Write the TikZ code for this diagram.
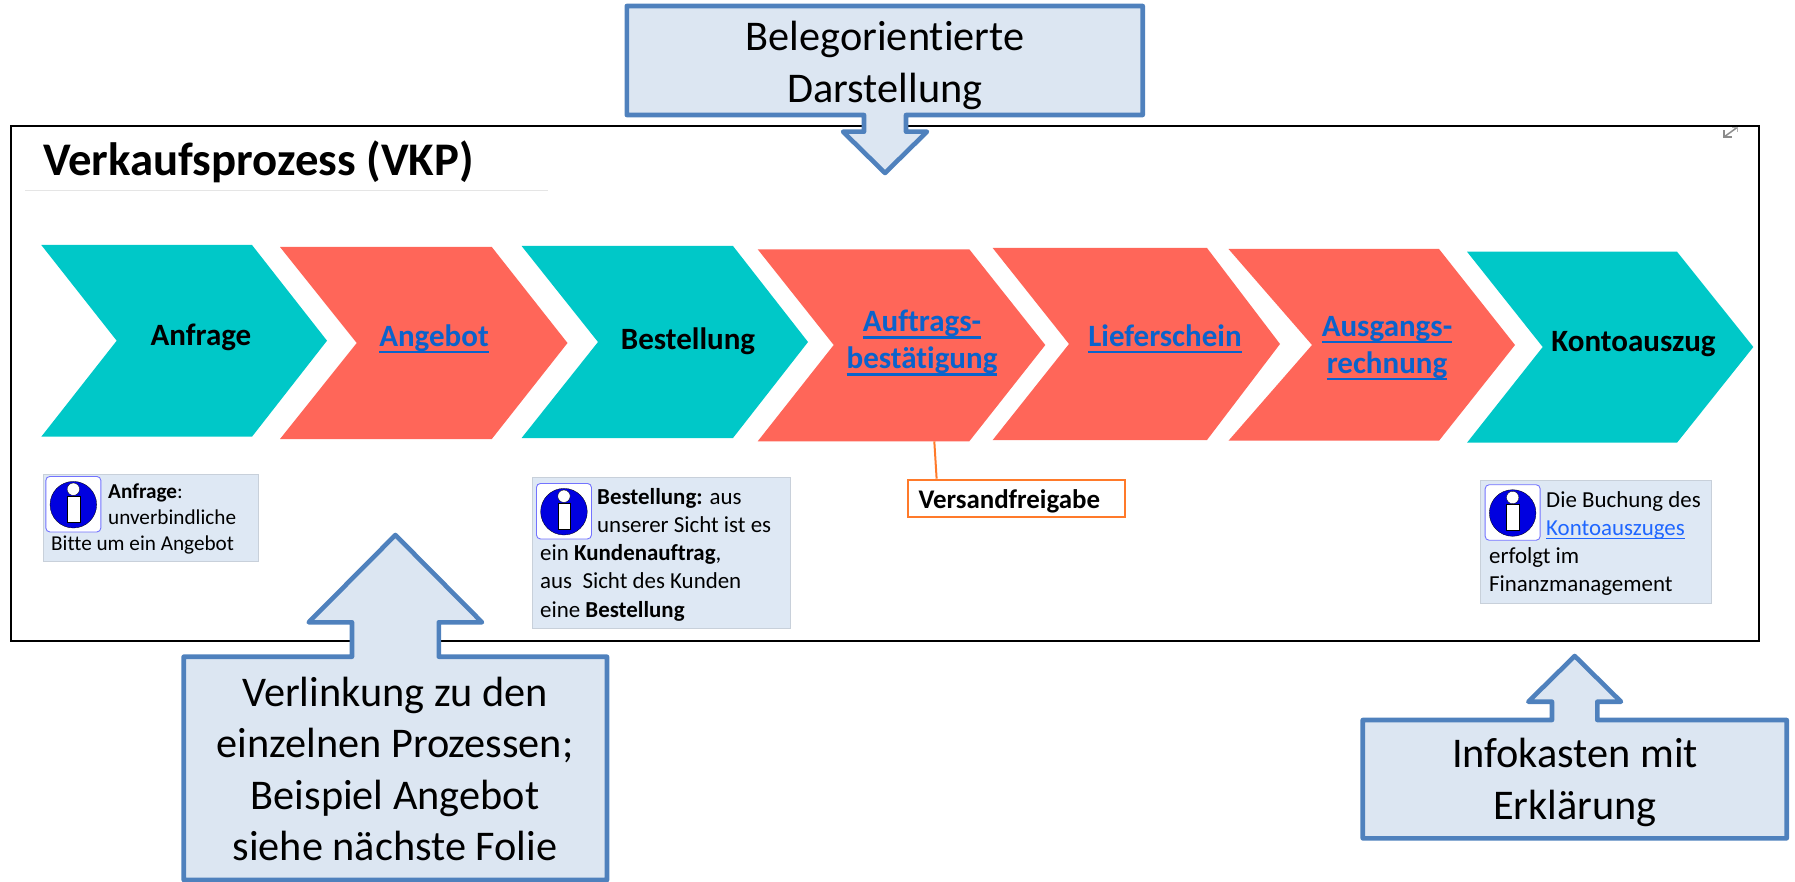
\documentclass[tikz,border=0pt]{standalone}
\usepackage{fontspec}
\setmainfont[Ligatures=NoCommon]{Carlito}
\usetikzlibrary{calc}
\definecolor{tealc}{HTML}{00C8C8}
\definecolor{redc}{HTML}{FF6659}
\definecolor{callstroke}{HTML}{4F81BD}
\definecolor{callfill}{HTML}{DCE6F2}
\definecolor{infofill}{HTML}{DEE8F4}
\definecolor{infoedge}{HTML}{C8D0DA}
\definecolor{linkc}{HTML}{0A63CC}
\definecolor{linkb}{HTML}{1F66FF}
\definecolor{orangec}{HTML}{FF7A2A}
\definecolor{iconblue}{HTML}{0000E0}
\newcommand\biglink[1]{\setbox0\hbox{#1}\rlap{\vrule width\wd0 height -4.5pt depth 7pt}\box0}
\newcommand\smalllink[1]{\setbox0\hbox{#1}\rlap{\vrule width\wd0 height -3.2pt depth 4.4pt}\box0}
\newcommand\chev[9]{% x-left, top, bottom, x-topright, x-tip, y-tip, x-notch, y-notch, colour
  \fill[#9] (#1,#2) -- (#4,#2) -- (#5,#6) -- (#4,#3) -- (#1,#3) -- (#7,#8) -- cycle;}
\newcommand\infoicon[3]{% name, frame x, frame y
  \node[iconframe,anchor=north west] (#1) at (#2,#3) {};
  \fill[iconblue,draw=black,line width=.3pt] ($(#1.center)+(0,0.5)$) circle (23.3);
  \fill[white,draw=black,line width=.3pt] ($(#1.center)+(0,-15)$) circle (6.2);
  \fill[white,draw=black,line width=.3pt] ($(#1.center)+(-6.3,-8)$) rectangle ($(#1.center)+(6.3,17.5)$);}
\tikzset{
  x=1pt,y=-1pt,
  steplabel/.style={font=\fontsize{31}{37}\selectfont\bfseries,inner sep=0,anchor=base,align=center},
  linklabel/.style={steplabel,text=linkc},
  calltext/.style={font=\fontsize{42.3}{51.3}\selectfont,inner sep=0,anchor=base,align=center,text=black},
  infotext/.style={inner sep=0,anchor=base west,align=left},
  callout/.style={draw=callstroke,fill=callfill,line width=4.6pt,line join=round},
  infobox/.style={fill=infofill,draw=infoedge,line width=.8pt},
  iconframe/.style={draw=blue!55!white,fill=white,line width=.9pt,rounded corners=4pt,minimum width=55pt,minimum height=55.5pt,inner sep=0},
}
\begin{document}
\begin{tikzpicture}
\useasboundingbox (0,0) rectangle (1795,882);
% frame
\draw[black,line width=2pt] (10.5,126) rectangle (1759,641);
% title
\node[font=\fontsize{46.75}{50}\selectfont\bfseries,inner sep=0,anchor=base west] (title) at (43,176) {Verkaufsprozess (VKP)};
\draw[black!10,line width=1.2pt] (25,190.7) -- (548,190.7);
% expand mark
\coordinate (ea) at (1724,137);
\coordinate (eb) at (1737,127.5);
\draw[black!45,line width=1.5pt] (ea) -- (eb);
\draw[black!45,line width=1.5pt] (1724,130.5) -- (ea) -- (1731.5,137);
\draw[black!30,line width=1pt] (1732,127.5) -- (eb) -- (1737,132);
% chevrons
\chev{41.3}{245}{436.7}{252}{327}{340.7}{116.7}{340.7}{tealc}
\chev{280}{247}{439}{491.8}{567.5}{343}{356.7}{343}{redc}
\chev{521.6}{246}{438}{733}{808}{342}{598}{342}{tealc}
\chev{757.7}{249.3}{441.3}{969.3}{1045.3}{345}{833.7}{345}{redc}
\chev{992.7}{248}{440}{1207}{1280}{344}{1069}{344}{redc}
\chev{1228.5}{249}{440.7}{1439}{1515}{345}{1312}{345}{redc}
\chev{1467}{251.7}{442.7}{1677}{1753.3}{347}{1542.7}{347}{tealc}
% chevron labels
\node[steplabel] (anfrage) at (201,345) {Anfrage};
\node[linklabel] (angebot) at (434,346) {\biglink{Angebot}};
\node[steplabel] (bestellung) at (688,349) {Bestellung};
\node[linklabel] (auftrag) at (922,368.5) {\biglink{Auftrags-}\\\biglink{bestätigung}};
\node[linklabel] (liefer) at (1165,346) {\biglink{Lieferschein}};
\node[linklabel] (ausgang) at (1387,373) {\biglink{Ausgangs-}\\\biglink{rechnung}};
\node[steplabel] (konto) at (1633.5,352) {Kontoauszug};
% Versandfreigabe
\coordinate (footfour) at (934.3,441.3);
\node[draw=orangec,line width=2.4pt,minimum width=217pt,minimum height=37pt,inner sep=0,anchor=north west] (vfbox) at (907,478.7) {};
\node[font=\fontsize{26.9}{28}\selectfont\bfseries,inner sep=0,anchor=base west] (vftext) at (918.3,508) {Versandfreigabe};
\draw[orangec,line width=2pt] (footfour) -- ($(vfbox.north west)!0.135!(vfbox.north east)$);
% info boxes
\draw[infobox] (43,474) rectangle (258.7,561.7);
\infoicon{ia}{45.4}{476}
\node[infotext,font=\fontsize{21.2}{26}\selectfont] (ta) at (51,550) {\hspace*{57pt}\textbf{Anfrage}:\\\hspace*{57pt}unverbindliche\\Bitte um ein Angebot};
\draw[infobox] (532,477) rectangle (790,628);
\infoicon{ib}{536}{483}
\node[infotext,font=\fontsize{22.9}{28.2}\selectfont] (tb) at (540,617) {\hspace*{57pt}\textbf{Bestellung:} aus\\\hspace*{57pt}unserer Sicht ist es\\ein \textbf{Kundenauftrag},\\aus\ \ Sicht des Kunden\\eine \textbf{Bestellung}};
\draw[infobox] (1480.7,480) rectangle (1711.7,603);
\infoicon{ic}{1484.7}{484.3}
\node[infotext,font=\fontsize{22.9}{28}\selectfont] (tc) at (1489,591) {\hspace*{57pt}Die Buchung des\\\hspace*{57pt}\textcolor{linkb}{\smalllink{Kontoauszuges}}\\erfolgt im\\Finanzmanagement};
% callouts
\draw[callout] (626.8,6) -- (1142.7,6) -- (1142.7,115) -- (906,115) -- (906,131.7) -- (927,131.7) -- (885,173) -- (843,131.7) -- (864,131.7) -- (864,115) -- (626.8,115) -- cycle;
\node[calltext,font=\fontsize{42.3}{52}\selectfont] (c1) at (885,102.3) {Belegorientierte\\Darstellung};
\draw[callout] (183.7,656.7) -- (352,656.7) -- (352,622.3) -- (308.7,622.3) -- (395.4,535) -- (482,622.3) -- (438.8,622.3) -- (438.8,656.7) -- (607,656.7) -- (607,880) -- (183.7,880) -- cycle;
\node[calltext] (c2) at (395,860.5) {Verlinkung zu den\\einzelnen Prozessen;\\Beispiel Angebot\\siehe nächste Folie};
\draw[callout] (1362.7,720) -- (1552,720) -- (1552,701.7) -- (1528.3,701.7) -- (1574.7,656) -- (1621,701.7) -- (1597.3,701.7) -- (1597.3,720) -- (1786.7,720) -- (1786.7,838.3) -- (1362.7,838.3) -- cycle;
\node[calltext] (c3) at (1575,819) {Infokasten mit\\Erklärung};
\end{tikzpicture}
\end{document}
